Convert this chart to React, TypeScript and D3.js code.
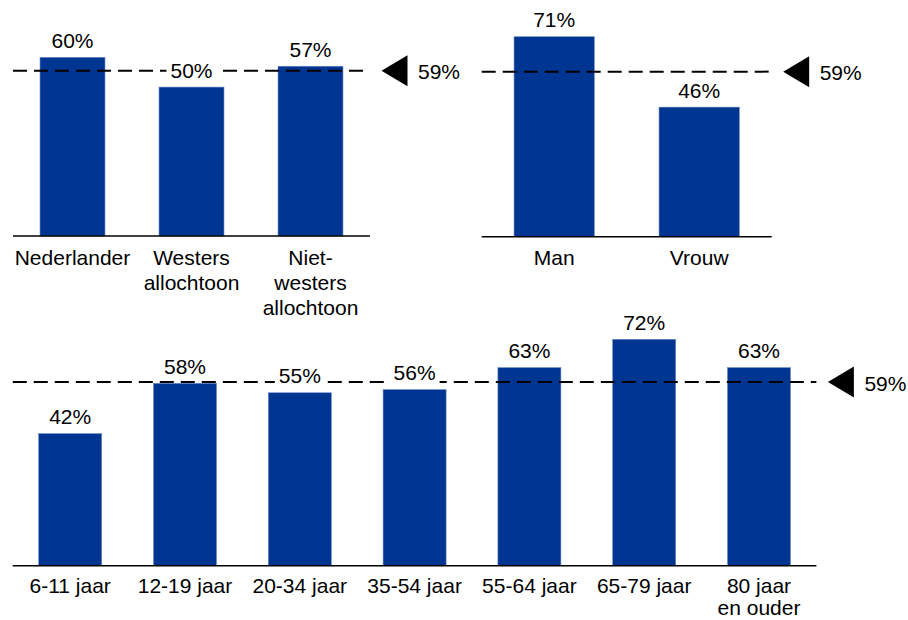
import React from "react";
import * as d3 from "d3";

// ---- Data ----
const originCategories = ["Nederlander", "Westers\nallochtoon", "Niet-\nwesters\nallochtoon"];
const originValues = [60, 50, 57];

const genderCategories = ["Man", "Vrouw"];
const genderValues = [71, 46];

const ageCategories = [
  "6-11 jaar",
  "12-19 jaar",
  "20-34 jaar",
  "35-54 jaar",
  "55-64 jaar",
  "65-79 jaar",
  "80 jaar\nen ouder",
];
const ageValues = [42, 58, 55, 56, 63, 72, 63];

const averageValue = 59;
const averageLabel = `${averageValue}%`;
// level at which the average line is drawn in each panel (as drawn in the original)
const averageDrawnAt = [55.5, 58.6, 58.4];

const FONT = "'Liberation Sans', Arial, Helvetica, sans-serif";
const BAR = "#003591";
const BAR_EDGE = "#6f8cc4";

type PanelProps = {
  cats: string[];
  vals: number[];
  x0: number;
  x1: number;
  base: number;
  refVal: number;
  refY: number;
  padding: number;
  lineGap: number;
  firstLine: number;
  lineLevel: number;
};

function Panel({ cats, vals, x0, x1, base, refVal, refY, padding, lineGap, firstLine, lineLevel }: PanelProps) {
  const x = d3
    .scaleBand<string>()
    .domain(cats)
    .range([x0, x1])
    .paddingInner(padding)
    .paddingOuter(padding / 2);
  const y = d3.scaleLinear().domain([0, refVal]).range([base, refY]);
  const dashY = y(lineLevel);
  const triTip = x1 + 11.5;
  const triW = 26;
  const triH = 31;
  const tri = d3.path();
  tri.moveTo(triTip, dashY);
  tri.lineTo(triTip + triW, dashY - triH / 2);
  tri.lineTo(triTip + triW, dashY + triH / 2);
  tri.closePath();
  return (
    <g>
      {cats.map((c, i) => (
        <rect
          key={c}
          x={x(c)}
          y={y(vals[i])}
          width={x.bandwidth()}
          height={base - y(vals[i])}
          fill={BAR}
          stroke={BAR_EDGE}
          strokeWidth={0.6}
        />
      ))}
      <line x1={x0} x2={x1} y1={base} y2={base} stroke="#000" strokeWidth={1.6} />
      <line
        x1={x0}
        x2={x1}
        y1={dashY}
        y2={dashY}
        stroke="#000"
        strokeWidth={2}
        strokeDasharray="14,7"
      />
      <path d={tri.toString()} fill="#000" />
      <text
        x={triTip + triW + 10.5}
        y={dashY + 8.5}
        fontFamily={FONT}
        fontSize={21}
        fill="#000"
      >
        {averageLabel}
      </text>
      {cats.map((c, i) => {
        const cx = (x(c) as number) + x.bandwidth() / 2;
        const cy = y(vals[i]) - 17;
        return (
          <g key={"l" + c}>
            <rect x={cx - 25} y={cy - 11} width={50} height={22} fill="#fff" />
            <text
              x={cx}
              y={cy + 7.5}
              textAnchor="middle"
              fontFamily={FONT}
              fontSize={21}
              fill="#000"
            >
              {`${vals[i]}%`}
            </text>
          </g>
        );
      })}
      {cats.map((c, i) => {
        const cx = (x(c) as number) + x.bandwidth() / 2;
        const lines = c.split("\n");
        return (
          <text
            key={"c" + c}
            textAnchor="middle"
            fontFamily={FONT}
            fontSize={21}
            fill="#000"
          >
            {lines.map((ln, j) => (
              <tspan key={j} x={cx} y={base + firstLine + j * lineGap}>
                {ln}
              </tspan>
            ))}
          </text>
        );
      })}
    </g>
  );
}

export default function App() {
  return (
    <svg
      width={908}
      height={620}
      style={{ position: "absolute", left: 0, top: 0, background: "#fff" }}
    >
      <rect x={0} y={0} width={908} height={620} fill="#fff" />
      <Panel
        cats={originCategories}
        vals={originValues}
        x0={13}
        x1={370}
        base={236}
        refVal={60}
        refY={57.3}
        padding={0.454}
        lineGap={25}
        firstLine={28.5}
        lineLevel={averageDrawnAt[0]}
      />
      <Panel
        cats={genderCategories}
        vals={genderValues}
        x0={481.7}
        x1={771.7}
        base={236.7}
        refVal={71}
        refY={36.7}
        padding={0.446}
        lineGap={25}
        firstLine={28}
        lineLevel={averageDrawnAt[1]}
      />
      <Panel
        cats={ageCategories}
        vals={ageValues}
        x0={12.8}
        x1={816.4}
        base={565.7}
        refVal={72}
        refY={339.3}
        padding={0.451}
        lineGap={21.5}
        firstLine={27.5}
        lineLevel={averageDrawnAt[2]}
      />
    </svg>
  );
}
